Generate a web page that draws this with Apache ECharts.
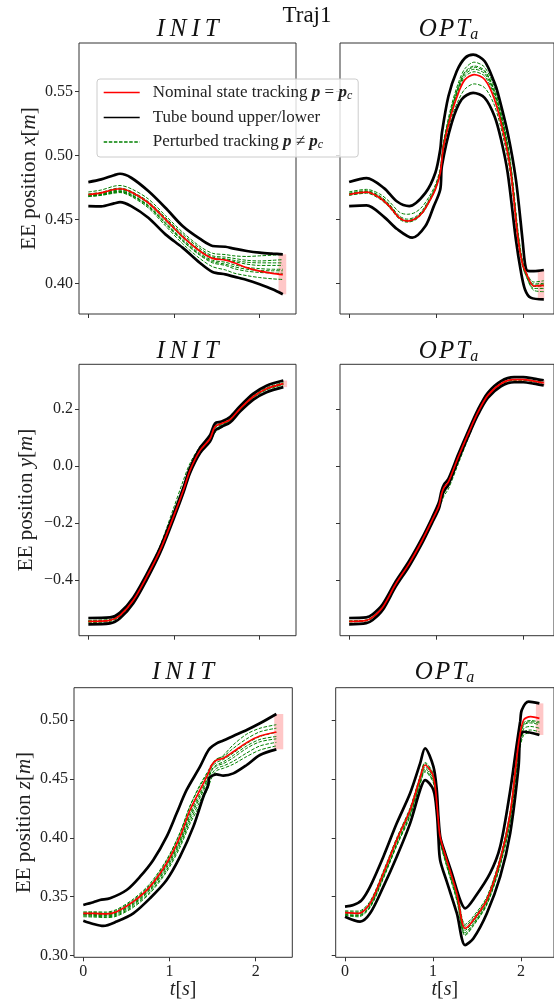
<!DOCTYPE html>
<html>
<head>
<meta charset="utf-8">
<script src="https://cdn.jsdelivr.net/npm/echarts@6/dist/echarts.min.js"></script>
<style>
html,body{margin:0;padding:0;background:#fff;}
#chart{width:554px;height:1002px;}
</style>
</head>
<body>
<div id="chart"></div>
<script>
// ---------------- tick labels ----------------
const xTicks = [0, 1, 2];
const xTickLabels = ['0', '1', '2'];
const yTicksX = [0.40, 0.45, 0.50, 0.55];
const yLabelsX = ['0.40', '0.45', '0.50', '0.55'];
const yTicksY = [-0.4, -0.2, 0.0, 0.2];
const yLabelsY = ['\u22120.4', '\u22120.2', '0.0', '0.2'];
const yTicksZ = [0.30, 0.35, 0.40, 0.45, 0.50];
const yLabelsZ = ['0.30', '0.35', '0.40', '0.45', '0.50'];

// ---------------- Row 1: x, INIT ----------------
const tXInit = [0,0.15,0.3,0.37,0.5,0.7,0.9,1.1,1.3,1.45,1.6,1.7,1.85,2.0,2.15,2.27];
const xInitNom = [0.4695,0.4708,0.4734,0.4740,0.4714,0.4630,0.4500,0.4365,0.4253,0.4195,0.4182,0.4161,0.4122,0.4096,0.4078,0.4068];
const xInitUp  = [0.4792,0.4813,0.4846,0.4857,0.4826,0.4722,0.4591,0.4448,0.4349,0.4292,0.4286,0.4271,0.4253,0.4240,0.4232,0.4227];
const xInitLow = [0.4604,0.4602,0.4625,0.4635,0.4604,0.4513,0.4383,0.4279,0.4161,0.4089,0.4070,0.4052,0.4026,0.3992,0.3953,0.3914];
const xInitG1 = [0.4715,0.4730,0.4760,0.4765,0.4740,0.4660,0.4530,0.4400,0.4290,0.4235,0.4225,0.4215,0.4210,0.4215,0.4220,0.4225];
const xInitG2 = [0.4700,0.4712,0.4740,0.4745,0.4720,0.4640,0.4515,0.4385,0.4275,0.4215,0.4205,0.4195,0.4180,0.4175,0.4180,0.4185];
const xInitG3 = [0.4690,0.4700,0.4725,0.4730,0.4705,0.4625,0.4495,0.4360,0.4250,0.4195,0.4185,0.4170,0.4150,0.4140,0.4140,0.4140];
const xInitG4 = [0.4685,0.4695,0.4718,0.4722,0.4695,0.4610,0.4480,0.4345,0.4235,0.4180,0.4165,0.4145,0.4125,0.4115,0.4110,0.4110];
const xInitG5 = [0.4680,0.4690,0.4710,0.4715,0.4688,0.4600,0.4465,0.4330,0.4220,0.4160,0.4140,0.4115,0.4095,0.4085,0.4080,0.4078];
const xInitG6 = [0.4678,0.4688,0.4705,0.4710,0.4680,0.4590,0.4450,0.4310,0.4195,0.4130,0.4105,0.4080,0.4060,0.4045,0.4035,0.4030];
const xInitG7 = [0.4692,0.4705,0.4730,0.4735,0.4712,0.4632,0.4505,0.4372,0.4262,0.4205,0.4192,0.4180,0.4165,0.4160,0.4160,0.4160];
const xInitG8 = [0.4683,0.4693,0.4714,0.4719,0.4690,0.4605,0.4470,0.4335,0.4225,0.4170,0.4150,0.4130,0.4110,0.4100,0.4098,0.4098];
const xInitBand = [2.22, 2.31];

// ---------------- Row 1: x, OPT_a ----------------
const tXOptNom = [0,0.2,0.35,0.46,0.58,0.67,0.76,0.84,0.92,0.99,1.046,1.084,1.178,1.26,1.33,1.435,1.556,1.669,1.78,1.857,1.94,1.99,2.03,2.12,2.235];
const xOptNom = [0.4695,0.4713,0.4670,0.4604,0.4510,0.4487,0.4505,0.4552,0.4640,0.4734,0.4865,0.5073,0.5334,0.5500,0.5594,0.5633,0.5594,0.5438,0.5151,0.4865,0.4344,0.4150,0.4084,0.3979,0.3984];
const tXOptUp = [0,0.2,0.4,0.55,0.69,0.876,0.99,1.046,1.065,1.14,1.235,1.33,1.424,1.556,1.669,1.707,1.82,1.914,1.99,2.02,2.05,2.12,2.235];
const xOptUp = [0.4792,0.4823,0.4745,0.4640,0.4604,0.4708,0.4865,0.5047,0.5177,0.5463,0.5659,0.5763,0.5789,0.5737,0.5568,0.5490,0.5177,0.4813,0.4344,0.4150,0.4097,0.4095,0.4104];
const tXOptLow = [0,0.2,0.4,0.55,0.725,0.876,0.97,1.046,1.065,1.178,1.291,1.424,1.556,1.669,1.744,1.82,1.914,1.97,2.02,2.084,2.235];
const xOptLow = [0.4604,0.4609,0.4520,0.4425,0.4357,0.4448,0.4600,0.4734,0.4917,0.5255,0.5438,0.5490,0.5451,0.5307,0.5125,0.4865,0.4344,0.4100,0.3950,0.3888,0.3875];
const xOptG1 = [0.4715,0.4735,0.4700,0.4640,0.4555,0.4540,0.4555,0.4600,0.4680,0.4770,0.4900,0.5110,0.5400,0.5580,0.5680,0.5730,0.5690,0.5530,0.5230,0.4930,0.4400,0.4180,0.4090,0.4010,0.4020];
const xOptG2 = [0.4705,0.4725,0.4685,0.4620,0.4525,0.4502,0.4520,0.4570,0.4660,0.4755,0.4885,0.5095,0.5375,0.5555,0.5655,0.5700,0.5665,0.5505,0.5210,0.4910,0.4385,0.4170,0.4080,0.3995,0.4000];
const xOptG3 = [0.4700,0.4718,0.4678,0.4612,0.4515,0.4492,0.4512,0.4560,0.4650,0.4745,0.4878,0.5088,0.5360,0.5535,0.5635,0.5675,0.5640,0.5480,0.5190,0.4895,0.4370,0.4160,0.4070,0.3975,0.3980];
const xOptG4 = [0.4690,0.4710,0.4668,0.4602,0.4508,0.4484,0.4502,0.4550,0.4640,0.4738,0.4872,0.5080,0.5350,0.5520,0.5618,0.5655,0.5620,0.5465,0.5175,0.4885,0.4360,0.4150,0.4060,0.3960,0.3960];
const xOptG5 = [0.4688,0.4705,0.4660,0.4595,0.4500,0.4478,0.4496,0.4545,0.4635,0.4735,0.4860,0.5055,0.5300,0.5440,0.5520,0.5560,0.5530,0.5390,0.5110,0.4830,0.4320,0.4135,0.4060,0.3945,0.3935];
const xOptG6 = [0.4698,0.4716,0.4675,0.4608,0.4512,0.4488,0.4508,0.4556,0.4646,0.4742,0.4876,0.5085,0.5368,0.5545,0.5648,0.5690,0.5655,0.5495,0.5200,0.4900,0.4375,0.4165,0.4075,0.3985,0.3990];
const xOptBand = [2.166, 2.24];

// ---------------- Row 2: y, INIT ----------------
const tYInit = [0,0.253,0.37,0.525,0.681,0.837,0.992,1.109,1.187,1.304,1.42,1.479,1.556,1.654,1.77,1.926,2.08,2.276];
const yInitNom = [-0.545,-0.5415,-0.524,-0.471,-0.389,-0.296,-0.179,-0.085,-0.015,0.055,0.096,0.139,0.149,0.163,0.201,0.244,0.271,0.289];
const yInitUp  = [-0.533,-0.531,-0.514,-0.461,-0.379,-0.287,-0.170,-0.076,-0.006,0.064,0.108,0.150,0.156,0.172,0.210,0.254,0.282,0.300];
const yInitLow = [-0.555,-0.552,-0.534,-0.481,-0.399,-0.305,-0.188,-0.094,-0.024,0.046,0.086,0.125,0.138,0.153,0.191,0.233,0.259,0.277];
const yInitG1 = [-0.541,-0.538,-0.520,-0.467,-0.385,-0.292,-0.175,-0.081,-0.011,0.059,0.100,0.142,0.152,0.167,0.205,0.248,0.275,0.293];
const yInitG2 = [-0.549,-0.545,-0.528,-0.475,-0.393,-0.300,-0.183,-0.089,-0.019,0.051,0.092,0.133,0.145,0.159,0.197,0.240,0.267,0.285];
const yInitG3 = [-0.544,-0.540,-0.522,-0.466,-0.380,-0.280,-0.150,-0.050,0.010,0.068,0.100,0.128,0.142,0.160,0.199,0.242,0.269,0.287];
const yInitG4 = [-0.546,-0.542,-0.525,-0.472,-0.390,-0.297,-0.181,-0.088,-0.020,0.048,0.085,0.118,0.135,0.158,0.198,0.242,0.270,0.288];
const yInitG5 = [-0.544,-0.541,-0.523,-0.470,-0.388,-0.295,-0.178,-0.084,-0.014,0.056,0.097,0.136,0.148,0.164,0.202,0.245,0.272,0.290];
const yInitBand = [2.27, 2.32];

// ---------------- Row 2: y, OPT_a ----------------
const tYOpt = [0,0.196,0.27,0.385,0.536,0.687,0.838,0.951,1.03,1.06,1.09,1.14,1.253,1.366,1.479,1.592,1.743,1.894,2.0,2.12,2.234];
const yOptNom = [-0.545,-0.5415,-0.530,-0.495,-0.413,-0.343,-0.261,-0.191,-0.140,-0.100,-0.075,-0.055,0.032,0.113,0.189,0.248,0.289,0.303,0.303,0.298,0.292];
const yOptUp  = [-0.533,-0.531,-0.520,-0.485,-0.404,-0.334,-0.252,-0.182,-0.128,-0.088,-0.064,-0.045,0.041,0.122,0.198,0.257,0.298,0.312,0.312,0.307,0.301];
const yOptLow = [-0.555,-0.551,-0.540,-0.505,-0.422,-0.352,-0.270,-0.200,-0.150,-0.112,-0.086,-0.065,0.023,0.104,0.180,0.239,0.280,0.294,0.294,0.289,0.283];
const yOptG1 = [-0.543,-0.540,-0.528,-0.492,-0.410,-0.340,-0.258,-0.188,-0.145,-0.120,-0.095,-0.070,0.015,0.102,0.183,0.245,0.288,0.302,0.303,0.298,0.293];
const yOptG2 = [-0.547,-0.543,-0.532,-0.497,-0.415,-0.345,-0.263,-0.193,-0.150,-0.128,-0.104,-0.080,0.008,0.096,0.180,0.243,0.286,0.301,0.301,0.296,0.290];
const yOptG3 = [-0.545,-0.542,-0.531,-0.496,-0.414,-0.344,-0.262,-0.192,-0.142,-0.108,-0.085,-0.062,0.025,0.108,0.186,0.247,0.290,0.304,0.304,0.299,0.294];
const yOptG4 = [-0.544,-0.541,-0.529,-0.494,-0.412,-0.342,-0.260,-0.190,-0.148,-0.115,-0.090,-0.067,0.020,0.105,0.185,0.246,0.289,0.303,0.302,0.297,0.291];
const yOptBand = [2.215, 2.25];

// ---------------- Row 3: z, INIT ----------------
const tZInitNom = [0,0.116,0.27,0.387,0.58,0.774,0.967,1.122,1.238,1.354,1.45,1.49,1.547,1.625,1.741,1.896,2.05,2.24];
const zInitNom = [0.3359,0.3358,0.3354,0.3373,0.3458,0.3586,0.3784,0.4010,0.4236,0.4406,0.4547,0.4618,0.4660,0.4675,0.4731,0.4808,0.4864,0.4898];
const tZInitUp = [0,0.116,0.193,0.31,0.503,0.658,0.812,0.967,1.083,1.199,1.354,1.43,1.47,1.547,1.625,1.741,1.896,2.05,2.24];
const zInitUp = [0.3430,0.3453,0.3472,0.3487,0.3557,0.3670,0.3812,0.4010,0.4208,0.4406,0.4604,0.4717,0.4760,0.4802,0.4825,0.4864,0.4915,0.4972,0.5051];
const tZInitLow = [0,0.116,0.232,0.387,0.58,0.774,0.967,1.122,1.277,1.393,1.45,1.46,1.547,1.625,1.741,1.896,2.05,2.24];
const zInitLow = [0.3297,0.3269,0.3252,0.3289,0.3359,0.3487,0.3642,0.3840,0.4095,0.4349,0.4448,0.4505,0.4539,0.4528,0.4547,0.4618,0.4703,0.4751];
const zInitG1 = [0.3372,0.3372,0.3370,0.3392,0.3480,0.3612,0.3815,0.4045,0.4270,0.4440,0.4560,0.4610,0.4660,0.4700,0.4790,0.4880,0.4930,0.4960];
const zInitG2 = [0.3355,0.3352,0.3348,0.3365,0.3448,0.3575,0.3770,0.3990,0.4210,0.4380,0.4525,0.4600,0.4640,0.4665,0.4720,0.4800,0.4860,0.4895];
const zInitG3 = [0.3345,0.3342,0.3338,0.3352,0.3432,0.3556,0.3745,0.3960,0.4170,0.4340,0.4490,0.4570,0.4610,0.4630,0.4680,0.4760,0.4815,0.4840];
const zInitG4 = [0.3338,0.3335,0.3330,0.3343,0.3420,0.3542,0.3728,0.3940,0.4145,0.4310,0.4460,0.4540,0.4590,0.4610,0.4650,0.4720,0.4780,0.4810];
const zInitG5 = [0.3330,0.3328,0.3323,0.3335,0.3410,0.3530,0.3712,0.3920,0.4120,0.4280,0.4430,0.4510,0.4570,0.4590,0.4625,0.4690,0.4745,0.4780];
const zInitG6 = [0.3350,0.3348,0.3343,0.3360,0.3440,0.3565,0.3760,0.3975,0.4190,0.4360,0.4510,0.4580,0.4620,0.4645,0.4700,0.4780,0.4835,0.4860];
const zInitG7 = [0.3365,0.3365,0.3362,0.3383,0.3470,0.3600,0.3805,0.4040,0.4270,0.4450,0.4570,0.4625,0.4670,0.4690,0.4760,0.4840,0.4900,0.4930];
const zInitBand = [2.215, 2.32];

// ---------------- Row 3: z, OPT_a ----------------
const tZOptNom = [0,0.152,0.285,0.436,0.588,0.74,0.85,0.91,1.005,1.05,1.081,1.157,1.271,1.366,1.461,1.613,1.764,1.878,1.973,2.03,2.11,2.21];
const zOptNom = [0.3365,0.3359,0.3444,0.3699,0.3982,0.4236,0.4500,0.4618,0.4519,0.4236,0.4010,0.3812,0.3530,0.3232,0.3303,0.3473,0.3812,0.4208,0.4802,0.5000,0.5028,0.5014];
const tZOptUp = [0,0.095,0.19,0.285,0.436,0.588,0.74,0.854,0.91,1.005,1.043,1.062,1.085,1.138,1.214,1.309,1.366,1.48,1.65,1.764,1.878,1.95,1.992,2.01,2.087,2.21];
const zOptUp = [0.3416,0.3430,0.3472,0.3586,0.3840,0.4123,0.4378,0.4632,0.4760,0.4604,0.4406,0.4180,0.4000,0.3870,0.3700,0.3473,0.3402,0.3500,0.3700,0.3925,0.4400,0.4780,0.4990,0.5085,0.5155,0.5141];
const tZOptLow = [0,0.171,0.285,0.436,0.588,0.74,0.854,0.91,1.005,1.045,1.062,1.081,1.157,1.271,1.366,1.461,1.613,1.764,1.878,1.973,1.992,2.03,2.21];
const zOptLow = [0.3331,0.3289,0.3359,0.3586,0.3840,0.4123,0.4406,0.4490,0.4406,0.4200,0.4000,0.3812,0.3628,0.3360,0.3090,0.3148,0.3360,0.3670,0.4039,0.4604,0.4858,0.4900,0.4873];
const zOptG1 = [0.3380,0.3378,0.3462,0.3718,0.4000,0.4255,0.4515,0.4640,0.4540,0.4262,0.4025,0.3822,0.3560,0.3265,0.3335,0.3500,0.3835,0.4225,0.4800,0.4975,0.4995,0.4985];
const zOptG2 = [0.3360,0.3352,0.3435,0.3688,0.3970,0.4222,0.4485,0.4600,0.4505,0.4225,0.3995,0.3800,0.3515,0.3215,0.3290,0.3462,0.3800,0.4190,0.4770,0.4955,0.4975,0.4960];
const zOptG3 = [0.3350,0.3342,0.3422,0.3672,0.3952,0.4205,0.4468,0.4585,0.4490,0.4210,0.3985,0.3780,0.3495,0.3195,0.3275,0.3450,0.3785,0.4170,0.4740,0.4925,0.4945,0.4930];
const zOptG4 = [0.3345,0.3338,0.3415,0.3662,0.3940,0.4192,0.4455,0.4570,0.4475,0.4195,0.3975,0.3765,0.3480,0.3180,0.3262,0.3440,0.3772,0.4150,0.4710,0.4895,0.4915,0.4900];
const zOptG5 = [0.3372,0.3368,0.3452,0.3708,0.3990,0.4246,0.4510,0.4630,0.4530,0.4250,0.4015,0.3820,0.3548,0.3250,0.3320,0.3488,0.3822,0.4215,0.4790,0.4965,0.4985,0.4975];
const zOptG6 = [0.3340,0.3330,0.3408,0.3655,0.3932,0.4182,0.4445,0.4560,0.4465,0.4185,0.3965,0.3755,0.3468,0.3170,0.3255,0.3432,0.3762,0.4135,0.4690,0.4870,0.4890,0.4880];
const zOptBand = [2.17, 2.255];

// ---------------- build ----------------
const FONT = "'Liberation Serif', 'DejaVu Serif', serif";
const TXT = '#222';
const zip = (t, v) => t.map((x, i) => [x, v[i]]);

const grids = [
  {left: 79, top: 43, width: 217, height: 271},
  {left: 340, top: 43, width: 217, height: 271},
  {left: 79, top: 364.3, width: 217, height: 271.4},
  {left: 340, top: 364.3, width: 217, height: 271.4},
  {left: 74, top: 687.7, width: 218.3, height: 269.6},
  {left: 335.7, top: 687.7, width: 218.3, height: 269.6}
].map(g => Object.assign({show: true, borderColor: '#333', borderWidth: 1, backgroundColor: 'transparent'}, g));

const xRanges = [[-0.109, 2.424], [-0.105, 2.352], [-0.109, 2.424], [-0.105, 2.352], [-0.108, 2.425], [-0.106, 2.376]];
const yRanges = [[0.376, 0.588], [0.376, 0.588], [-0.595, 0.357], [-0.595, 0.357], [0.2986, 0.5274], [0.2986, 0.5274]];
const yTickSets = [yTicksX, yTicksX, yTicksY, yTicksY, yTicksZ, yTicksZ];
const yLabelSets = [yLabelsX, yLabelsX, yLabelsY, yLabelsY, yLabelsZ, yLabelsZ];
const yNames = ['EE position {i|x}[{i|m}]', '', 'EE position {i|y}[{i|m}]', '', 'EE position {i|z}[{i|m}]', ''];
const yNameGaps = [39, 0, 42, 0, 39, 0];

const labelFmt = (ticks, labels) => v => {
  const i = ticks.findIndex(t => Math.abs(t - v) < 1e-9);
  return i >= 0 ? labels[i] : '';
};

const xAxes = grids.map((g, i) => ({
  type: 'value', gridIndex: i, min: xRanges[i][0], max: xRanges[i][1],
  splitLine: {show: false},
  axisLine: {show: false, onZero: false},
  axisTick: {show: true, length: 4, customValues: xTicks, lineStyle: {color: '#333', width: 1}},
  axisLabel: {show: i >= 4, customValues: xTicks, formatter: labelFmt(xTicks, xTickLabels),
    fontFamily: FONT, fontSize: 16, color: TXT, margin: 6},
  name: i >= 4 ? '{i|t}[{i|s}]' : '',
  nameLocation: 'middle', nameGap: 19,
  nameTextStyle: {fontFamily: FONT, fontSize: 20, color: TXT, verticalAlign: 'top',
    rich: {i: {fontFamily: FONT, fontSize: 20, fontStyle: 'italic', color: TXT}}}
}));

const yAxes = grids.map((g, i) => ({
  type: 'value', gridIndex: i, min: yRanges[i][0], max: yRanges[i][1],
  splitLine: {show: false},
  axisLine: {show: false, onZero: false},
  axisTick: {show: true, length: 4, customValues: yTickSets[i], lineStyle: {color: '#333', width: 1}},
  axisLabel: {show: i % 2 === 0, customValues: yTickSets[i], formatter: labelFmt(yTickSets[i], yLabelSets[i]),
    fontFamily: FONT, fontSize: 16, color: TXT, margin: 6},
  name: yNames[i], nameLocation: 'middle', nameRotate: 90, nameGap: yNameGaps[i],
  nameTextStyle: {fontFamily: FONT, fontSize: 21, color: TXT,
    rich: {i: {fontFamily: FONT, fontSize: 21, fontStyle: 'italic', color: TXT}}}
}));

function panel(gi, nom, up, low, greens, band) {
  const out = [];
  greens.forEach(g => out.push({
    type: 'line', name: 'pert', xAxisIndex: gi, yAxisIndex: gi, data: g, symbol: 'none',
    smooth: 0.3, z: 2, silent: true, color: '#008000',
    itemStyle: {color: '#008000'},
    lineStyle: {color: '#008000', width: 1, type: [3.5, 1.6]}
  }));
  [up, low].forEach(b => out.push({
    type: 'line', name: 'tube', xAxisIndex: gi, yAxisIndex: gi, data: b, symbol: 'none',
    smooth: 0.3, z: 3, silent: true, color: '#000',
    itemStyle: {color: '#000'},
    lineStyle: {color: '#000', width: 2.7}
  }));
  out.push({
    type: 'line', name: 'nom', xAxisIndex: gi, yAxisIndex: gi, data: nom, symbol: 'none',
    smooth: 0.3, z: 4, silent: true, color: '#ff0000',
    itemStyle: {color: '#ff0000'},
    lineStyle: {color: '#ff0000', width: 1.7},
    markArea: {silent: true, itemStyle: {color: 'rgba(255,0,0,0.22)'},
      data: [[{xAxis: band[0], yAxis: low[low.length - 1][1]}, {xAxis: band[1], yAxis: up[up.length - 1][1]}]]}
  });
  return out;
}

const series = [].concat(
  panel(0, zip(tXInit, xInitNom), zip(tXInit, xInitUp), zip(tXInit, xInitLow),
    [xInitG1, xInitG2, xInitG3, xInitG4, xInitG5, xInitG6, xInitG7, xInitG8].map(g => zip(tXInit, g)), xInitBand),
  panel(1, zip(tXOptNom, xOptNom), zip(tXOptUp, xOptUp), zip(tXOptLow, xOptLow),
    [xOptG1, xOptG2, xOptG3, xOptG4, xOptG5, xOptG6].map(g => zip(tXOptNom, g)), xOptBand),
  panel(2, zip(tYInit, yInitNom), zip(tYInit, yInitUp), zip(tYInit, yInitLow),
    [yInitG1, yInitG2, yInitG3, yInitG4, yInitG5].map(g => zip(tYInit, g)), yInitBand),
  panel(3, zip(tYOpt, yOptNom), zip(tYOpt, yOptUp), zip(tYOpt, yOptLow),
    [yOptG1, yOptG2, yOptG3, yOptG4].map(g => zip(tYOpt, g)), yOptBand),
  panel(4, zip(tZInitNom, zInitNom), zip(tZInitUp, zInitUp), zip(tZInitLow, zInitLow),
    [zInitG1, zInitG2, zInitG3, zInitG4, zInitG5, zInitG6, zInitG7].map(g => zip(tZInitNom, g)), zInitBand),
  panel(5, zip(tZOptNom, zOptNom), zip(tZOptUp, zOptUp), zip(tZOptLow, zOptLow),
    [zOptG1, zOptG2, zOptG3, zOptG4, zOptG5, zOptG6].map(g => zip(tZOptNom, g)), zOptBand)
);

const legendText = {
  nom: 'Nominal state tracking {b|p} = {b|p}{s|c}',
  tube: 'Tube bound upper/lower',
  pert: 'Perturbed tracking {b|p} \u2260 {b|p}{s|c}'
};

const titleRich = {
  i: {fontFamily: FONT, fontSize: 25, fontStyle: 'italic', fill: '#111', lineHeight: 28},
  s: {fontFamily: FONT, fontSize: 16, fontStyle: 'italic', fill: '#111', verticalAlign: 'bottom', lineHeight: 12}
};
function title(x, y, text) {
  return {type: 'text', x: x, y: y, silent: true,
    style: {text: text, align: 'center', verticalAlign: 'middle', fontFamily: FONT, fontSize: 25, fill: '#111', rich: titleRich}};
}
const INIT = '{i|I\u2009N\u2009I\u2009T}';
const OPT = '{i|O\u200aP\u200aT}{s|a}';

const option = {
  animation: false,
  backgroundColor: '#fff',
  grid: grids,
  xAxis: xAxes,
  yAxis: yAxes,
  series: series,
  legend: {
    data: ['nom', 'tube', 'pert'],
    left: 97, top: 79, orient: 'vertical',
    itemWidth: 36, itemHeight: 12, itemGap: 7.5,
    padding: [5, 6, 6, 6],
    backgroundColor: 'rgba(255,255,255,0.8)',
    borderColor: '#cccccc', borderWidth: 1, borderRadius: 3,
    selectedMode: false,
    itemStyle: {color: 'transparent', borderColor: 'transparent', borderWidth: 0, opacity: 0},
    lineStyle: {width: 1.4},
    formatter: n => legendText[n],
    textStyle: {fontFamily: FONT, fontSize: 17, color: TXT, padding: [0, 0, 0, 8],
      rich: {
        b: {fontFamily: FONT, fontSize: 17, fontWeight: 'bold', fontStyle: 'italic', color: TXT},
        s: {fontFamily: FONT, fontSize: 12, fontStyle: 'italic', color: TXT, verticalAlign: 'bottom', padding: [6, 0, 0, 0]}
      }}
  },
  graphic: [
    {type: 'text', x: 307, y: 16, silent: true,
      style: {text: 'Traj1', align: 'center', verticalAlign: 'middle', fontFamily: FONT, fontSize: 23, fill: '#111'}},
    title(187.5, 29, INIT),
    title(448.5, 29, OPT),
    title(187.5, 351, INIT),
    title(448.5, 351, OPT),
    title(183, 672, INIT),
    title(444.5, 672, OPT)
  ]
};

const chart = echarts.init(document.getElementById('chart'), null, {renderer: 'canvas'});
chart.setOption(option);
</script>
</body>
</html>
